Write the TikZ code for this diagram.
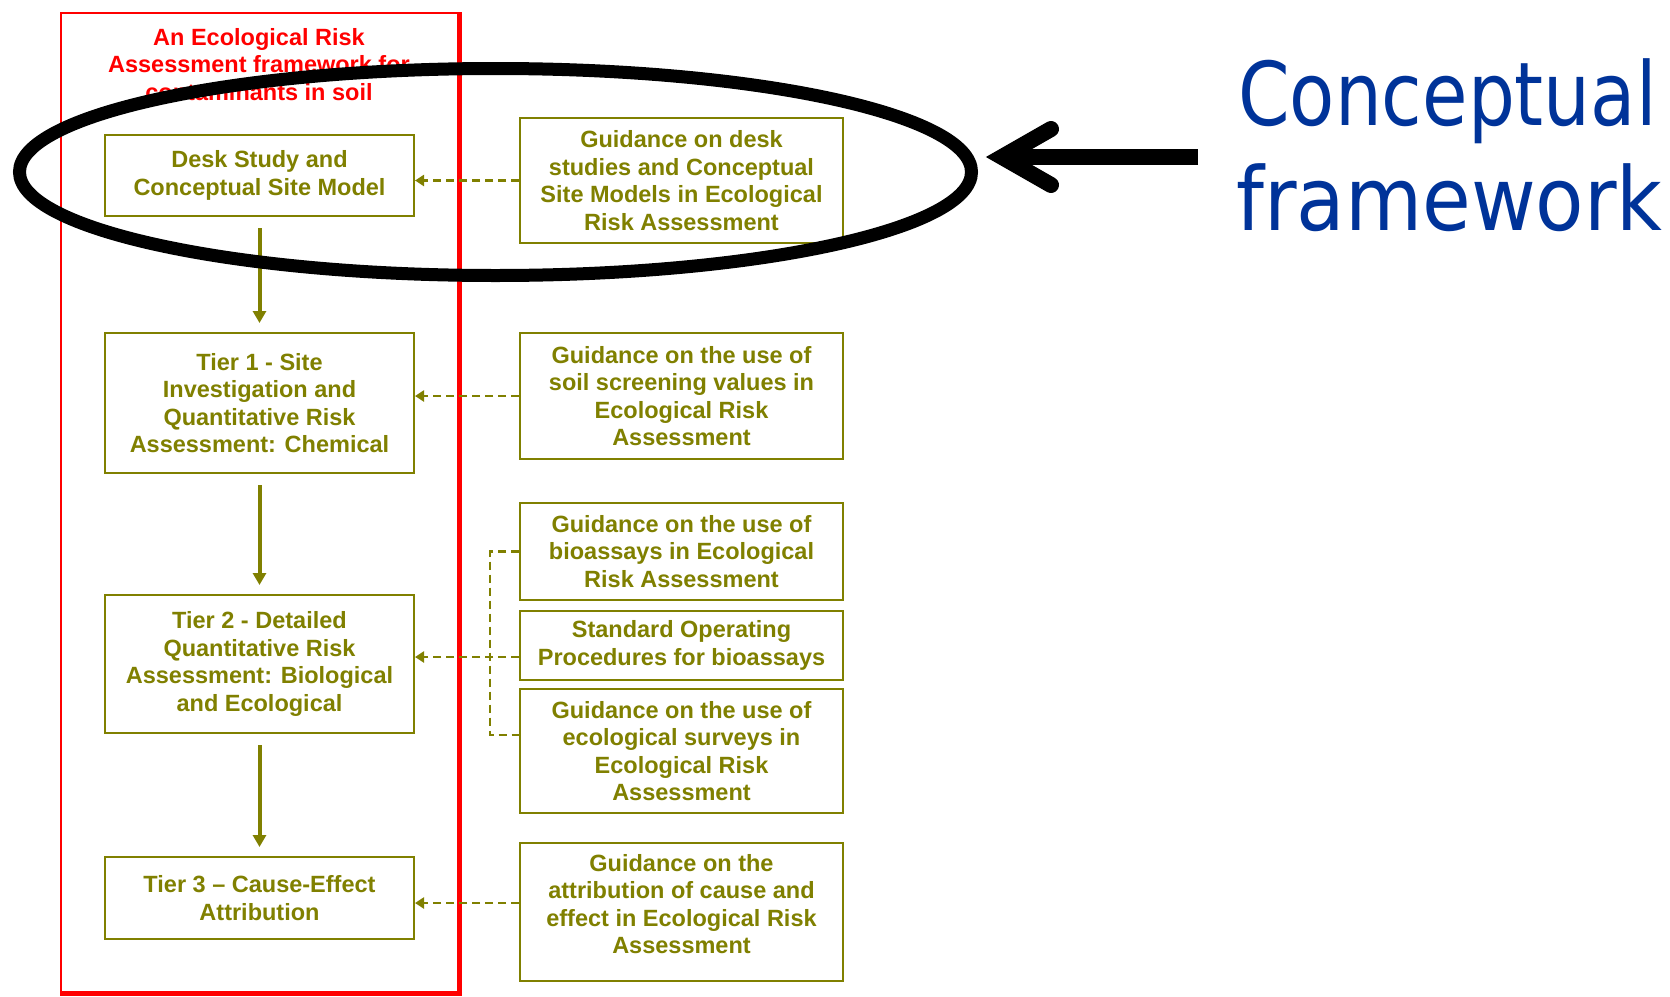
\documentclass[tikz,border=0pt]{standalone}
\usepackage{fontspec}
\usepackage{graphicx}
\setmainfont{Liberation Sans}
\newfontfamily\handfont{DejaVu Sans}
\usetikzlibrary{arrows.meta}
\definecolor{olivebox}{RGB}{128,128,0}
\definecolor{redframe}{RGB}{255,0,0}
\definecolor{bluetext}{RGB}{0,51,153}
\newcommand\myboxfont{\bfseries\fontsize{23.5}{27.5}\selectfont}
\begin{document}
\begin{tikzpicture}[x=1pt,y=-1pt,
  lbox/.style={draw=olivebox, line width=2pt, text=olivebox, font=\myboxfont,
    align=center, inner sep=0pt, minimum width=309pt},
  rbox/.style={draw=olivebox, line width=2pt, text=olivebox, font=\myboxfont,
    align=center, inner sep=0pt, minimum width=323pt},
  boxtext/.style={text=olivebox, font=\myboxfont, align=center, inner sep=0pt},
  solidarr/.style={draw=olivebox, line width=4pt,
    -{Triangle[width=13pt,length=12pt]}, shorten <=11pt, shorten >=9pt},
  dashline/.style={draw=olivebox, line width=2.5pt, dash pattern=on 8pt off 5pt},
  dasharr/.style={dashline, -{Triangle[width=11pt,length=9pt]}},
  bigline/.style={line width=16pt, draw=black}
]
\useasboundingbox (0,0) rectangle (1670,996);
\fill[white] (0,0) rectangle (1670,996);

% red frame
\draw[redframe, line width=2pt] (61,13) rectangle (459,993);
\draw[redframe, line width=5pt] (459,12) -- (459,993) -- (60,993);
\node[anchor=north, inner sep=0pt, text=redframe, font=\myboxfont, align=center] (title) at (259,28)
  {An Ecological Risk\\Assessment framework for\\contaminants in soil};

% left boxes
\node[lbox, minimum height=81pt] (L1) at (259.5,175.5) {Desk Study and\\Conceptual Site Model};
\node[lbox, minimum height=140pt] (L2) at (259.5,403) {Tier 1 - Site\\Investigation and\\Quantitative Risk\\Assessment: Chemical};
\node[lbox, minimum height=138pt] (L3) at (259.5,664) {Tier 2 - Detailed\\Quantitative Risk\\Assessment: Biological\\and Ecological};
\node[lbox, minimum height=82pt] (L4) at (259.5,898) {Tier 3 – Cause-Effect\\Attribution};

% right boxes
\node[rbox, minimum height=125pt] (R1) at (681.5,180.5) {Guidance on desk\\studies and Conceptual\\Site Models in Ecological\\Risk Assessment};
\node[rbox, minimum height=126pt] (R2) at (681.5,396) {Guidance on the use of\\soil screening values in\\Ecological Risk\\Assessment};
\node[rbox, minimum height=97pt] (R3) at (681.5,551.5) {Guidance on the use of\\bioassays in Ecological\\Risk Assessment};
\node[rbox, minimum height=69pt] (R4) at (681.5,645.5) {Standard Operating\\Procedures for bioassays};
\node[rbox, minimum height=124pt] (R5) at (681.5,751) {Guidance on the use of\\ecological surveys in\\Ecological Risk\\Assessment};
\node[rbox, minimum height=138pt] (R6) at (681.5,912) {};
\node[boxtext] (R6t) at (681.5,904) {Guidance on the\\attribution of cause and\\effect in Ecological Risk\\Assessment};

% solid arrows
\draw[solidarr] (L1) -- (L2);
\draw[solidarr] (L2) -- (L3);
\draw[solidarr] (L3) -- (L4);

% dashed connectors
\coordinate (j1) at (490,551.5);
\coordinate (j2) at (490,657);
\coordinate (j3) at (490,735);
\coordinate (k4) at (0,903);
\draw[dasharr] (R1.west) -- (L1.east |- R1.west);
\draw[dasharr] (R2.west) -- (L2.east |- R2.west);
\draw[dashline] (R3.west) -- (j1) -- (j3) -- (R5.west |- j3);
\draw[dasharr] (R4.west |- j2) -- (L3.east |- j2);
\draw[dasharr] (R6.west |- k4) -- (L4.east |- k4);

% ellipse highlight
\draw[line width=13pt] (495.5,172) ellipse [x radius=476, y radius=103.5];

% big arrow
\coordinate (atail) at (1198,157);
\coordinate (atip) at (1002,157);
\draw[bigline] (atail) -- (atip);
\draw[bigline, line cap=round, line join=miter] (1051,129) -- (atip) -- (1051,185);

% label
\node[anchor=base west, inner sep=0pt, text=bluetext, font=\handfont\fontsize{88}{88}\selectfont] (c1) at (1238,125) {\scalebox{0.84}[1]{Conceptual}};
\node[anchor=base west, inner sep=0pt, text=bluetext, font=\handfont\fontsize{88}{88}\selectfont] (c2) at (1236,230) {\scalebox{0.9}[1]{framework}};
\end{tikzpicture}
\end{document}
